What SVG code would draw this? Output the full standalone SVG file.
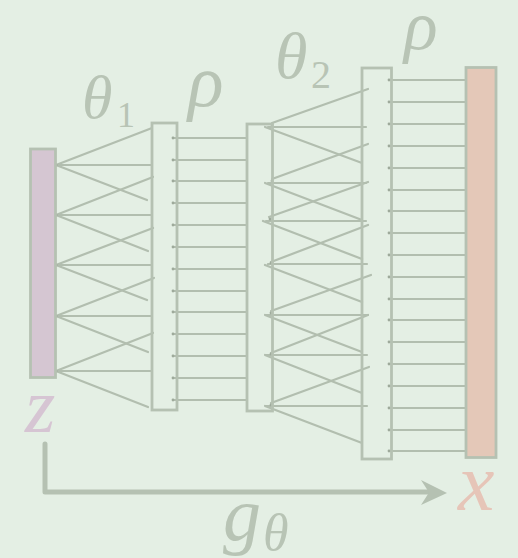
<svg xmlns="http://www.w3.org/2000/svg" width="518" height="558" viewBox="0 0 518 558">
<style>
.bg{fill:#e4efe4}
.box{fill:none;stroke:#b5c1b2;stroke-width:2.8}
.ln{stroke:#b2beaf;stroke-width:2.2;fill:none;stroke-linecap:round}
.dot{fill:#9eaa9b}
text{font-family:'Liberation Serif','DejaVu Serif',serif;fill:#b8c4b5}
.it{font-style:italic}
</style>
<rect class="bg" x="0" y="0" width="518" height="558"/>

<g id="connectors">
  <path class="ln" d="M56,165 L152,128 M56,165 H151 M56,165 L147,200"/>
  <path class="ln" d="M56,215 L153,177 M56,215 H151 M56,215 L148,251"/>
  <path class="ln" d="M56,265 L153,228 M56,265 H151 M56,265 L147,300"/>
  <path class="ln" d="M56,316 L154,278 M56,316 H151 M56,316 L148,352"/>
  <path class="ln" d="M56,371 L153,333 M56,371 H151 M56,371 L148,407"/>
  <path class="ln" d="M173,138 H247 M173,160 H247 M173,181 H247 M173,203 H247 M173,225 H247 M173,247 H247 M173,269 H247 M173,291 H247 M173,312 H247 M173,334 H247 M173,356 H247 M173,378 H247 M173,400 H247"/>
  <path class="ln" d="M272,123 L368,89 M268,127 H366 M265,127 L362,163"/>
  <path class="ln" d="M272,179 L368,144 M268,183 H366 M265,183 L362,220"/>
  <path class="ln" d="M269,217 L368,182 M266,221 H366 M263,221 L362,259"/>
  <path class="ln" d="M271,262 L368,225 M268,264 H367 M265,265 L362,302"/>
  <path class="ln" d="M271,311 L371,275 M266,315 H368 M265,315 L362,352"/>
  <path class="ln" d="M271,353 L368,315 M266,355 H367 M265,355 L362,393"/>
  <path class="ln" d="M271,403 L369,367 M265,406 H367 M265,406 L362,443"/>
  <path class="ln" d="M389,80 H465 M389,102 H465 M389,124 H465 M389,146 H465 M389,168 H465 M389,190 H465 M389,211 H465 M389,233 H465 M389,255 H465 M389,277 H465 M389,299 H465 M389,320 H465 M389,342 H465 M389,364 H465 M389,386 H465 M389,408 H465 M389,430 H465 M389,451 H465"/>
  <g class="dot">
    <circle cx="56" cy="165" r="1.6"/><circle cx="56" cy="215" r="1.6"/><circle cx="56" cy="265" r="1.6"/><circle cx="56" cy="316" r="1.6"/><circle cx="56" cy="371" r="1.6"/>
    <circle cx="173" cy="138" r="1.4"/><circle cx="173" cy="160" r="1.4"/><circle cx="173" cy="181" r="1.4"/><circle cx="173" cy="203" r="1.4"/><circle cx="173" cy="225" r="1.4"/><circle cx="173" cy="247" r="1.4"/><circle cx="173" cy="269" r="1.4"/><circle cx="173" cy="291" r="1.4"/><circle cx="173" cy="312" r="1.4"/><circle cx="173" cy="334" r="1.4"/><circle cx="173" cy="356" r="1.4"/><circle cx="173" cy="378" r="1.4"/><circle cx="173" cy="400" r="1.4"/>
    <circle cx="272" cy="125" r="1.4"/><circle cx="272" cy="181" r="1.4"/><circle cx="270" cy="219" r="1.4"/><circle cx="271" cy="263" r="1.4"/><circle cx="271" cy="313" r="1.4"/><circle cx="271" cy="354" r="1.4"/><circle cx="271" cy="405" r="1.4"/>
    <circle cx="389" cy="80" r="1.4"/><circle cx="389" cy="102" r="1.4"/><circle cx="389" cy="124" r="1.4"/><circle cx="389" cy="146" r="1.4"/><circle cx="389" cy="168" r="1.4"/><circle cx="389" cy="190" r="1.4"/><circle cx="389" cy="211" r="1.4"/><circle cx="389" cy="233" r="1.4"/><circle cx="389" cy="255" r="1.4"/><circle cx="389" cy="277" r="1.4"/><circle cx="389" cy="299" r="1.4"/><circle cx="389" cy="320" r="1.4"/><circle cx="389" cy="342" r="1.4"/><circle cx="389" cy="364" r="1.4"/><circle cx="389" cy="386" r="1.4"/><circle cx="389" cy="408" r="1.4"/><circle cx="389" cy="430" r="1.4"/><circle cx="389" cy="451" r="1.4"/>
  </g>
  <path d="M45,444 V492 H428" fill="none" stroke="#b5c1b2" stroke-width="5" stroke-linecap="round" stroke-linejoin="round"/>
  <path d="M447,493 L421,480 L429,492.5 L421,505 Z" fill="#b5c1b2"/>
</g>

<g id="z-bar"><rect x="30.5" y="149" width="25" height="228.5" fill="#d5c6d2" stroke="#b5c1b2" stroke-width="2.8"/></g>
<g id="layer1"><rect class="box" x="152" y="123" width="25" height="287"/></g>
<g id="layer2"><rect class="box" x="247" y="124" width="25.5" height="287"/></g>
<g id="layer3"><rect class="box" x="362" y="68" width="29.5" height="391"/></g>
<g id="x-bar"><rect x="466" y="67.5" width="30" height="390" fill="#e4c8b8" stroke="#b5c1b2" stroke-width="2.8"/></g>

<g id="labels">
  <text class="it" x="82" y="118" font-size="62">θ</text>
  <text x="117" y="127" font-size="36">1</text>
  <text class="it" x="188" y="106" font-size="74">ρ</text>
  <text class="it" x="275" y="78" font-size="66">θ</text>
  <text x="311" y="88" font-size="40">2</text>
  <text class="it" x="404" y="49" font-size="70">ρ</text>
  <text class="it" x="25" y="432" font-size="78" style="fill:#d6c5d3">z</text>
  <text class="it" x="458" y="510" font-size="82" style="fill:#e6c5b8">x</text>
  <text class="it" x="223" y="540" font-size="76">g</text>
  <text class="it" x="263" y="550" font-size="52">θ</text>
</g>
</svg>
